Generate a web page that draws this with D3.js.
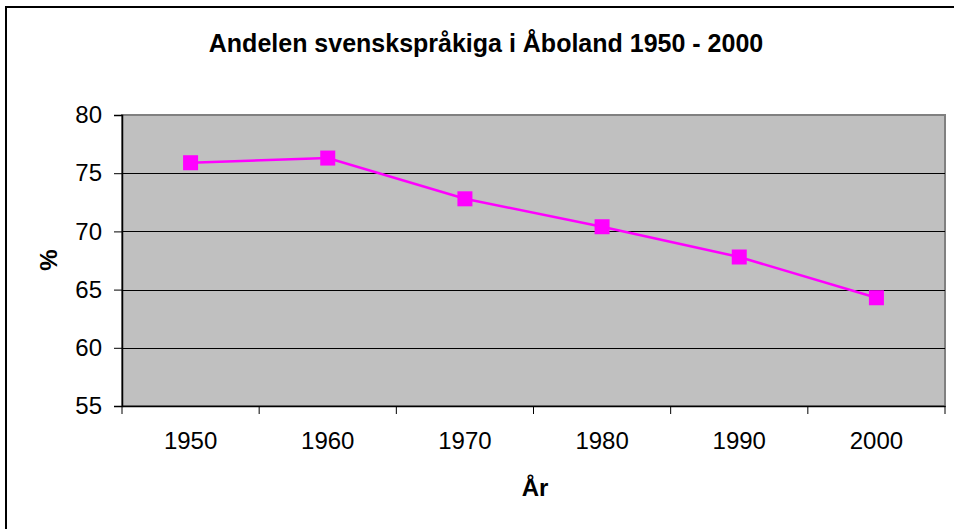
<!DOCTYPE html>
<html>
<head>
<meta charset="utf-8">
<script src="https://cdn.jsdelivr.net/npm/d3@7"></script>
<style>
  body { margin: 0; background: #fff; }
  text { font-family: Arial, "Liberation Sans", sans-serif; fill: #000; }
</style>
</head>
<body>
<svg id="chart" width="954" height="529"></svg>
<script>
const years = ['1950', '1960', '1970', '1980', '1990', '2000'],
	shares = [75.9, 76.3, 72.8, 70.4, 67.8, 64.3],
	yTicks = [55, 60, 65, 70, 75, 80];

const width = 954, height = 529;
const plot = { left: 122, top: 115, right: 945, bottom: 406 };

const svg = d3.select('#chart');

// outer chart border (runs off the right/bottom edge in the reference)
svg.append('rect')
	.attr('x', 6).attr('y', 7)
	.attr('width', width + 20).attr('height', height + 20)
	.attr('fill', '#fff')
	.attr('stroke', '#000').attr('stroke-width', 2);

const x = d3.scaleBand()
	.domain(years)
	.range([plot.left, plot.right]);

const y = d3.scaleLinear()
	.domain([55, 80])
	.range([plot.bottom, plot.top]);

// plot area
svg.append('rect')
	.attr('x', plot.left).attr('y', plot.top)
	.attr('width', plot.right - plot.left).attr('height', plot.bottom - plot.top)
	.attr('fill', '#c0c0c0')
	.attr('stroke', '#808080').attr('stroke-width', 2);

// gridlines
svg.append('g')
	.selectAll('line')
	.data(yTicks.filter(d => d > 55 && d < 80))
	.join('line')
	.attr('x1', plot.left).attr('x2', plot.right)
	.attr('y1', d => Math.round(y(d)) + 0.5).attr('y2', d => Math.round(y(d)) + 0.5)
	.attr('stroke', '#000').attr('stroke-width', 1);

// y axis
const yAxis = svg.append('g')
	.attr('transform', `translate(${plot.left},0)`)
	.call(d3.axisLeft(y).tickValues(yTicks).tickSize(8).tickPadding(12));
yAxis.select('.domain').attr('stroke', '#000').attr('stroke-width', 1.5);
yAxis.selectAll('text').attr('font-size', 24).attr('font-family', 'Arial, "Liberation Sans", sans-serif');

// x axis: ticks between categories
const xAxis = svg.append('g')
	.attr('transform', `translate(0,${plot.bottom})`)
	.call(d3.axisBottom(x).tickSize(0).tickPadding(26));
xAxis.select('.domain').attr('stroke', '#000').attr('stroke-width', 1.5);
xAxis.selectAll('text').attr('font-size', 24).attr('font-family', 'Arial, "Liberation Sans", sans-serif');
xAxis.selectAll('.sep')
	.data(years.map(d => x(d)).concat([x(years[years.length - 1]) + x.bandwidth()]))
	.join('line')
	.attr('class', 'sep')
	.attr('x1', d => d).attr('x2', d => d)
	.attr('y1', 0).attr('y2', 8)
	.attr('stroke', '#000');

// series
const cx = d => x(d) + x.bandwidth() / 2;
const line = d3.line()
	.x((d, i) => cx(years[i]))
	.y(d => y(d));

svg.append('path')
	.datum(shares)
	.attr('d', line)
	.attr('fill', 'none')
	.attr('stroke', '#ff00ff')
	.attr('stroke-width', 2.5);

svg.append('g')
	.selectAll('rect')
	.data(shares)
	.join('rect')
	.attr('x', (d, i) => cx(years[i]) - 7.5)
	.attr('y', d => y(d) - 7.5)
	.attr('width', 15).attr('height', 15)
	.attr('fill', '#ff00ff');

// titles
svg.append('text')
	.attr('x', 486).attr('y', 52)
	.attr('text-anchor', 'middle')
	.attr('font-size', 25).attr('font-weight', 'bold')
	.text('Andelen svenskspråkiga i Åboland 1950 - 2000');

svg.append('text')
	.attr('transform', 'translate(57,260) rotate(-90)')
	.attr('text-anchor', 'middle')
	.attr('font-size', 24).attr('font-weight', 'bold')
	.text('%');

svg.append('text')
	.attr('x', 535).attr('y', 496)
	.attr('text-anchor', 'middle')
	.attr('font-size', 24).attr('font-weight', 'bold')
	.text('År');
</script>
</body>
</html>
